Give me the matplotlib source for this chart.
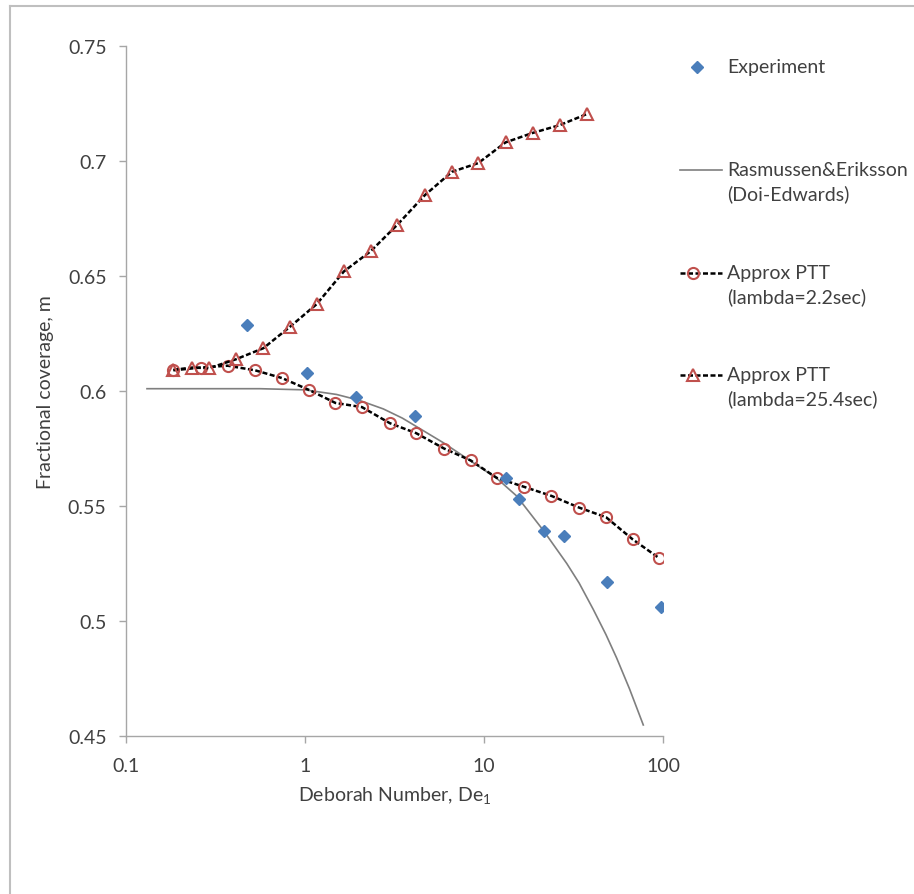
import matplotlib
matplotlib.use("Agg")
import matplotlib.pyplot as plt
from matplotlib.lines import Line2D
import numpy as np

plt.rcParams['font.family'] = ['Lato', 'DejaVu Sans']

# ---------------- data ----------------
exp_x = [0.476, 1.02, 1.93, 4.13, 13.3, 15.6, 21.7, 28.1, 48.4, 97.5]
exp_y = [0.6286, 0.6078, 0.5976, 0.5893, 0.562, 0.553, 0.539, 0.537, 0.517, 0.506]

re_x = [0.131, 0.3, 0.56, 1.0, 1.5, 2.0, 2.74, 3.5, 4.0, 5.93, 8.45, 11.8, 15.2, 21.4,
        29.0, 34.0, 40.8, 48.0, 55.1, 65.0, 77.6]
re_y = [0.601, 0.601, 0.601, 0.6005, 0.5985, 0.596, 0.5922, 0.5882, 0.5855, 0.5775,
        0.5695, 0.5620, 0.5544, 0.5395, 0.5250, 0.5165, 0.5050, 0.4941, 0.4839, 0.4705,
        0.4548]

ptt22_x = [0.184, 0.262, 0.370, 0.526, 0.746, 1.057, 1.48, 2.08, 2.98, 4.17, 5.98, 8.43,
           11.8, 16.8, 23.8, 34.0, 48.1, 67.7, 95.3]
ptt22_y = [0.609, 0.6102, 0.611, 0.609, 0.6056, 0.6004, 0.5948, 0.593, 0.586, 0.5817,
           0.575, 0.5698, 0.5622, 0.5583, 0.5544, 0.5493, 0.5451, 0.5355, 0.5273]

ptt254_x = [0.184, 0.2346, 0.291, 0.4115, 0.585, 0.824, 1.163, 1.65, 2.33, 3.28, 4.68,
            6.62, 9.29, 13.2, 18.7, 26.5, 37.5]
ptt254_y = [0.6092, 0.6102, 0.6099, 0.6138, 0.6186, 0.6279, 0.6378, 0.652, 0.6608,
            0.6723, 0.6852, 0.6953, 0.6991, 0.7081, 0.7122, 0.7156, 0.7204]

x_ticks = [0.1, 1, 10, 100]
x_ticklabels = ['0.1', '1', '10', '100']
y_ticks = [0.45, 0.5, 0.55, 0.6, 0.65, 0.7, 0.75]
y_ticklabels = ['0.45', '0.5', '0.55', '0.6', '0.65', '0.7', '0.75']

labels = ['Experiment', 'Rasmussen&Eriksson\n(Doi-Edwards)',
          'Approx PTT\n(lambda=2.2sec)', 'Approx PTT\n(lambda=25.4sec)']

# ---------------- figure ----------------
W, H = 914, 895
fig = plt.figure(figsize=(W / 100, H / 100), dpi=100)
ax = fig.add_axes([126 / W, 1 - 737 / H, (663 - 126) / W, (737 - 47) / H])

blue = '#4A7EBB'
red = '#C0504D'
grey_line = '#7F7F7F'
text_col = '#404040'
FS = 14

exp_style = dict(linestyle='none', marker='D', markersize=6, color=blue,
                 markeredgecolor=blue)
re_style = dict(color=grey_line, linewidth=1.2)
p22_style = dict(color='black', linewidth=1.8, linestyle=(0, (2, 1)),
                 marker='o', markersize=8, markerfacecolor='none', markeredgecolor=red,
                 markeredgewidth=1.5)
p254_style = dict(color='black', linewidth=1.8, linestyle=(0, (2, 1)),
                  marker='^', markersize=9, markerfacecolor='none', markeredgecolor=red,
                  markeredgewidth=1.5)

ax.plot(exp_x, exp_y, zorder=5, **exp_style)
ax.plot(re_x, re_y, zorder=3, **re_style)
ax.plot(ptt22_x, ptt22_y, zorder=4, **p22_style)
ax.plot(ptt254_x, ptt254_y, zorder=4, **p254_style)

ax.set_xscale('log')
ax.set_xlim(0.1, 100)
ax.set_ylim(0.45, 0.75)
ax.set_xticks(x_ticks)
ax.set_xticklabels(x_ticklabels)
ax.xaxis.set_minor_locator(matplotlib.ticker.NullLocator())
ax.set_yticks(y_ticks)
ax.set_yticklabels(y_ticklabels)

for s in ['top', 'right']:
    ax.spines[s].set_visible(False)
for s in ['left', 'bottom']:
    ax.spines[s].set_color('#A6A6A6')
    ax.spines[s].set_linewidth(1.0)
ax.tick_params(axis='both', colors='#A6A6A6', labelcolor=text_col, labelsize=FS,
               length=5, width=1.0, direction='out')
ax.tick_params(axis='y', pad=9)
ax.tick_params(axis='x', pad=10)

ax.set_xlabel('Deborah Number, De$_\\mathregular{1}$', fontsize=FS, color=text_col, labelpad=8)
ax.set_ylabel('Fractional coverage, m', fontsize=FS, color=text_col, labelpad=10)

# ---------------- legend (drawn in figure pixel coordinates) ----------------
def fx(px):
    return px / W

def fy(py):
    return 1 - py / H

styles = [exp_style, re_style, p22_style, p254_style]
rows = [68, 171, 274, 376]
for lab, st, py in zip(labels, styles, rows):
    if st is exp_style:
        fig.add_artist(Line2D([fx(697)], [fy(py)], transform=fig.transFigure, **st))
    else:
        line_kw = {k: v for k, v in st.items() if not k.startswith('marker')}
        fig.add_artist(Line2D([fx(680), fx(722)], [fy(py), fy(py)],
                              transform=fig.transFigure, **line_kw))
        if 'marker' in st:
            mk = {k: v for k, v in st.items() if k.startswith('marker')}
            fig.add_artist(Line2D([fx(693)], [fy(py)], transform=fig.transFigure,
                                  linestyle='none', **mk))
    lines = lab.split('\n')
    for i, t in enumerate(lines):
        fig.text(fx(727), fy(py + i * 23), t, fontsize=FS, color=text_col,
                 ha='left', va='center')

# outer border (top and left only visible)
fig.add_artist(Line2D([10 / W, 1], [1 - 7 / H, 1 - 7 / H], transform=fig.transFigure,
                      color='#BFBFBF', linewidth=1.5))
fig.add_artist(Line2D([10 / W, 10 / W], [0, 1 - 7 / H], transform=fig.transFigure,
                      color='#BFBFBF', linewidth=1.5))

fig.savefig('out.png', dpi=100)
